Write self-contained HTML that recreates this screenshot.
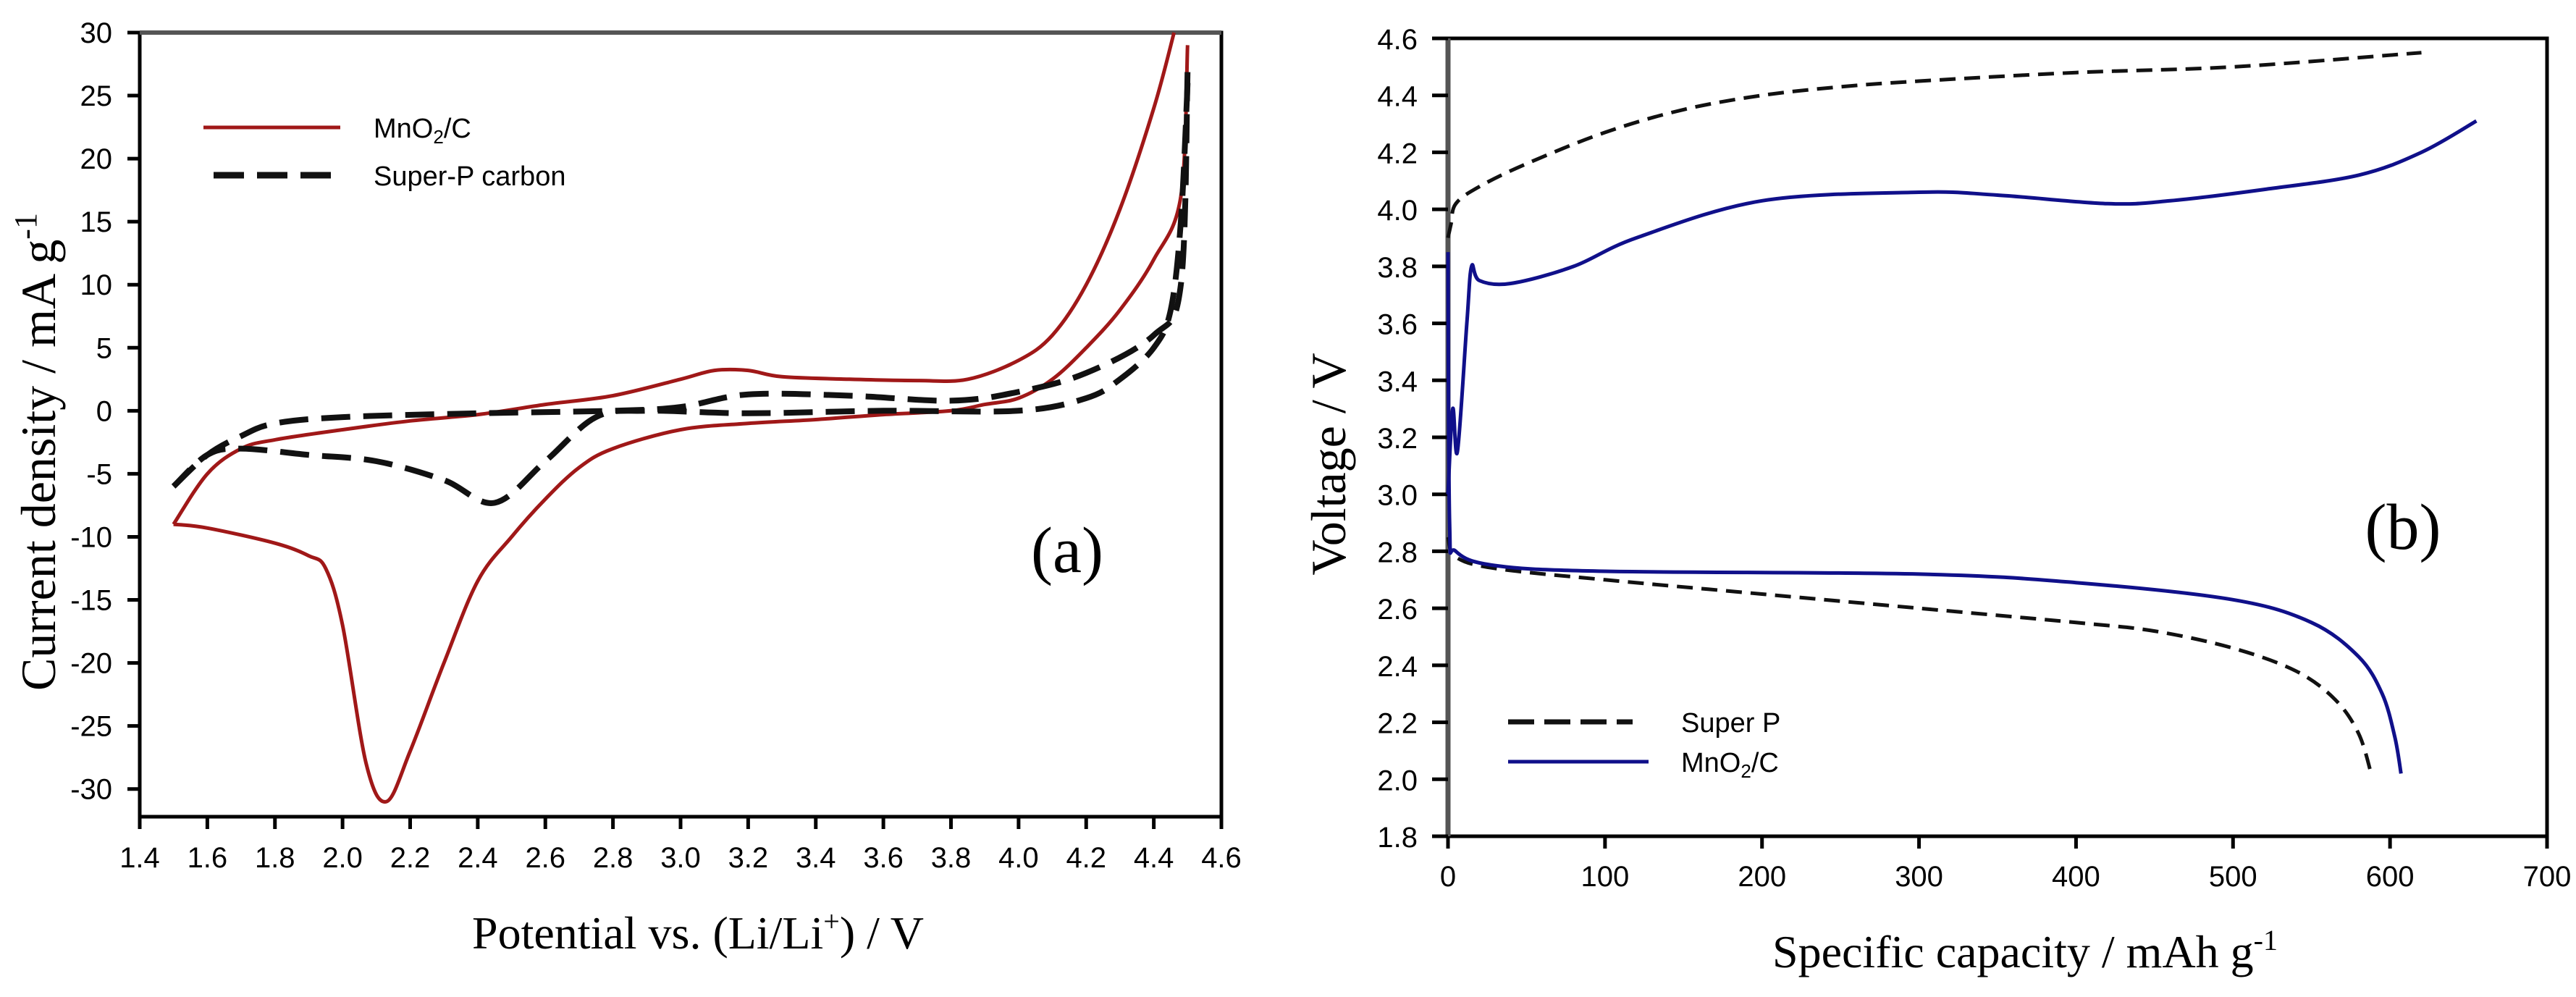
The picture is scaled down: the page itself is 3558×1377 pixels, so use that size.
<!DOCTYPE html>
<html><head><meta charset="utf-8"><style>
html,body{margin:0;padding:0;background:#fff;}
svg{display:block;}
.tick{font-family:"Liberation Sans",sans-serif;font-size:40px;fill:#000;}
.ser{font-family:"Liberation Serif",serif;fill:#000;}
.leg{font-family:"Liberation Sans",sans-serif;font-size:38px;fill:#000;}
</style></head><body>
<svg id="fig" width="3558" height="1377" viewBox="0 0 3558 1377" xmlns="http://www.w3.org/2000/svg">
<g id="pa"></g>
<g id="pb"></g>
</svg>
<script>
// Panel a data
const aXTicks=[1.4,1.6,1.8,2.0,2.2,2.4,2.6,2.8,3.0,3.2,3.4,3.6,3.8,4.0,4.2,4.4,4.6];
const aYTicks=[30,25,20,15,10,5,0,-5,-10,-15,-20,-25,-30];
const mnAnodicV=[1.5,1.6,1.7,1.8,2.0,2.2,2.4,2.6,2.8,3.0,3.1,3.2,3.3,3.5,3.7,3.85,4.0,4.1,4.2,4.3,4.4,4.46];
const mnAnodicI=[-9,-5,-3,-2.3,-1.5,-0.8,-0.3,0.5,1.2,2.5,3.2,3.2,2.7,2.5,2.4,2.5,4,6,10,16,24,30];
const mnCathV=[4.5,4.48,4.4,4.3,4.2,4.1,4.0,3.9,3.8,3.6,3.4,3.2,3.0,2.8,2.7,2.6,2.5,2.4,2.3,2.2,2.13,2.07,2.0,1.95,1.9,1.8,1.6,1.5];
const mnCathI=[29,17,12,8,5,2.5,1,0.5,0,-0.3,-0.7,-1,-1.5,-3,-4.5,-7,-10,-13.5,-20,-27,-31,-28,-17,-12.5,-11.5,-10.5,-9.3,-9];
const spAnodicV=[1.5,1.6,1.7,1.8,2.0,2.4,2.8,3.0,3.2,3.5,3.8,4.0,4.2,4.4,4.48,4.5];
const spAnodicI=[-6,-3.5,-2,-1,-0.5,-0.2,0,0.3,1.3,1.2,0.8,1.5,3,6,10,27];
const spCathV=[4.5,4.48,4.45,4.4,4.3,4.2,4.0,3.6,3.2,2.9,2.75,2.6,2.45,2.3,2.1,1.9,1.7,1.6,1.5];
const spCathI=[26,15,8,5,2.5,1,0,0,-0.2,0,-0.5,-4,-7.3,-5.5,-4,-3.5,-3,-3.5,-6];
// Panel b data
const bXTicks=[0,100,200,300,400,500,600,700];
const bYTicks=[1.8,2.0,2.2,2.4,2.6,2.8,3.0,3.2,3.4,3.6,3.8,4.0,4.2,4.4,4.6];
const spChgQ=[0,2,5,20,50,100,150,200,250,300,400,500,620];
const spChgV=[3.9,3.95,4.02,4.08,4.16,4.27,4.35,4.40,4.43,4.45,4.48,4.5,4.55];
const mnChgQ=[0,3,6,12,15,20,40,80,120,200,300,350,420,460,520,580,620,655];
const mnChgV=[3.0,3.3,3.15,3.6,3.8,3.75,3.74,3.8,3.9,4.03,4.06,4.05,4.02,4.03,4.07,4.12,4.2,4.31];
const mnDisQ=[0,1,5,30,100,300,400,500,550,580,595,603,607];
const mnDisV=[3.85,2.9,2.8,2.75,2.73,2.72,2.69,2.63,2.55,2.43,2.3,2.15,2.02];
const spDisQ=[0,5,30,100,200,300,400,450,500,540,565,580,588];
const spDisV=[2.85,2.78,2.74,2.7,2.65,2.6,2.55,2.52,2.46,2.38,2.28,2.16,2.02];

const NS="http://www.w3.org/2000/svg";
function mk(parent,tag,attrs){const e=document.createElementNS(NS,tag);for(const k in attrs)e.setAttribute(k,attrs[k]);parent.appendChild(e);return e;}
function txt(parent,x,y,s,cls,anchor,extra){const t=mk(parent,'text',Object.assign({x:x,y:y,'class':cls,'text-anchor':anchor||'middle'},extra||{}));t.textContent=s;return t;}
function lin(a0,a1,p0,p1){return v=>p0+(v-a0)*(p1-p0)/(a1-a0);}
function pathD(xs,ys,sx,sy){
  const P=xs.map((v,i)=>[sx(v),sy(ys[i])]);
  let d='M'+P[0][0].toFixed(1)+' '+P[0][1].toFixed(1);
  for(let i=0;i<P.length-1;i++){
    const p0=P[Math.max(0,i-1)],p1=P[i],p2=P[i+1],p3=P[Math.min(P.length-1,i+2)];
    const c1=[p1[0]+(p2[0]-p0[0])/6,p1[1]+(p2[1]-p0[1])/6];
    const c2=[p2[0]-(p3[0]-p1[0])/6,p2[1]-(p3[1]-p1[1])/6];
    d+=' C'+c1[0].toFixed(1)+' '+c1[1].toFixed(1)+' '+c2[0].toFixed(1)+' '+c2[1].toFixed(1)+' '+p2[0].toFixed(1)+' '+p2[1].toFixed(1);
  }
  return d;
}

// ---------- Panel A ----------
const pa=document.getElementById('pa');
const ax=lin(1.4,4.6,193,1687), ay=lin(30,-32.2,45,1128);
let r=mk(pa,'rect',{x:193,y:45,width:1494,height:1083,fill:'none',stroke:'#000','stroke-width':5});


mk(pa,'line',{x1:193,y1:45,x2:1687,y2:45,stroke:'#555','stroke-width':6});
aXTicks.forEach(v=>{
  const l=mk(pa,'line',{x1:ax(v),y1:1128,x2:ax(v),y2:1145,stroke:'#000','stroke-width':5});
  
  
  const t=txt(pa,ax(v),1198,v.toFixed(1),'tick');
  
  
});
aYTicks.forEach(v=>{
  const l=mk(pa,'line',{x1:176,y1:ay(v),x2:193,y2:ay(v),stroke:'#000','stroke-width':5});
  
  
  const t=txt(pa,155,ay(v)+14,String(v),'tick','end');
  
  
});
const red='#a01818';
let p;
p=mk(pa,'path',{d:pathD(mnAnodicV,mnAnodicI,ax,ay),fill:'none',stroke:red,'stroke-width':5,'stroke-linejoin':'round'});


p=mk(pa,'path',{d:pathD(mnCathV,mnCathI,ax,ay),fill:'none',stroke:red,'stroke-width':5,'stroke-linejoin':'round'});


p=mk(pa,'path',{d:pathD(spAnodicV,spAnodicI,ax,ay),fill:'none',stroke:'#111','stroke-width':8,'stroke-dasharray':'40 18'});


p=mk(pa,'path',{d:pathD(spCathV,spCathI,ax,ay),fill:'none',stroke:'#111','stroke-width':8,'stroke-dasharray':'40 18'});


// legend a
let g=mk(pa,'g',{});


mk(g,'line',{x1:281,y1:176,x2:470,y2:176,stroke:red,'stroke-width':5});
let t=mk(g,'text',{x:516,y:190,'class':'leg'});t.innerHTML='MnO<tspan font-size="26" dy="8">2</tspan><tspan dy="-8">/C</tspan>';


mk(g,'line',{x1:295,y1:242,x2:470,y2:242,stroke:'#111','stroke-width':9,'stroke-dasharray':'42 18'});
t=txt(g,516,256,'Super-P carbon','leg','start');


t=txt(pa,1474,790,'(a)','ser','middle',{'font-size':90});


t=mk(pa,'text',{x:964,y:1310,'class':'ser','text-anchor':'middle','font-size':64});
t.innerHTML='Potential vs. (Li/Li<tspan font-size="40" dy="-24">+</tspan><tspan dy="24">)  / V</tspan>';


t=mk(pa,'text',{x:0,y:0,'class':'ser','text-anchor':'middle','font-size':68,transform:'translate(76,624) rotate(-90)'});
t.innerHTML='Current density / mA g<tspan font-size="44" dy="-26">-1</tspan>';



// ---------- Panel B ----------
const pb=document.getElementById('pb');
const bx=lin(0,700,2000,3518), by=lin(4.6,1.8,53,1155);
r=mk(pb,'rect',{x:2000,y:53,width:1518,height:1102,fill:'none',stroke:'#000','stroke-width':5});


mk(pb,'line',{x1:2000,y1:53,x2:2000,y2:1155,stroke:'#555','stroke-width':7});
bXTicks.forEach(v=>{
  const l=mk(pb,'line',{x1:bx(v),y1:1155,x2:bx(v),y2:1172,stroke:'#000','stroke-width':5});
  
  
  const t=txt(pb,bx(v),1224,String(v),'tick');
  
  
});
bYTicks.forEach(v=>{
  const l=mk(pb,'line',{x1:1978,y1:by(v),x2:2000,y2:by(v),stroke:'#000','stroke-width':5});
  
  
  const t=txt(pb,1958,by(v)+15,v.toFixed(1),'tick','end');
  
  
});
const blue='#10108a';
p=mk(pb,'path',{d:pathD(spChgQ,spChgV,bx,by),fill:'none',stroke:'#111','stroke-width':5,'stroke-dasharray':'22 12'});


p=mk(pb,'path',{d:pathD(spDisQ,spDisV,bx,by),fill:'none',stroke:'#111','stroke-width':5,'stroke-dasharray':'22 12'});


p=mk(pb,'path',{d:pathD(mnChgQ,mnChgV,bx,by),fill:'none',stroke:blue,'stroke-width':5,'stroke-linejoin':'round'});


p=mk(pb,'path',{d:pathD(mnDisQ,mnDisV,bx,by),fill:'none',stroke:blue,'stroke-width':5,'stroke-linejoin':'round'});


g=mk(pb,'g',{});


mk(g,'line',{x1:2083,y1:997,x2:2255,y2:997,stroke:'#111','stroke-width':7,'stroke-dasharray':'36 14'});
t=txt(g,2322,1011,'Super P','leg','start');


mk(g,'line',{x1:2083,y1:1052,x2:2277,y2:1052,stroke:blue,'stroke-width':5});
t=mk(g,'text',{x:2322,y:1066,'class':'leg'});t.innerHTML='MnO<tspan font-size="26" dy="8">2</tspan><tspan dy="-8">/C</tspan>';


t=txt(pb,3319,758,'(b)','ser','middle',{'font-size':90});


t=mk(pb,'text',{x:2797,y:1336,'class':'ser','text-anchor':'middle','font-size':64});
t.innerHTML='Specific capacity / mAh g<tspan font-size="40" dy="-24">-1</tspan>';


t=mk(pb,'text',{x:0,y:0,'class':'ser','text-anchor':'middle','font-size':68,transform:'translate(1858,641) rotate(-90)'});
t.textContent='Voltage  / V';


</script>
</body></html>
